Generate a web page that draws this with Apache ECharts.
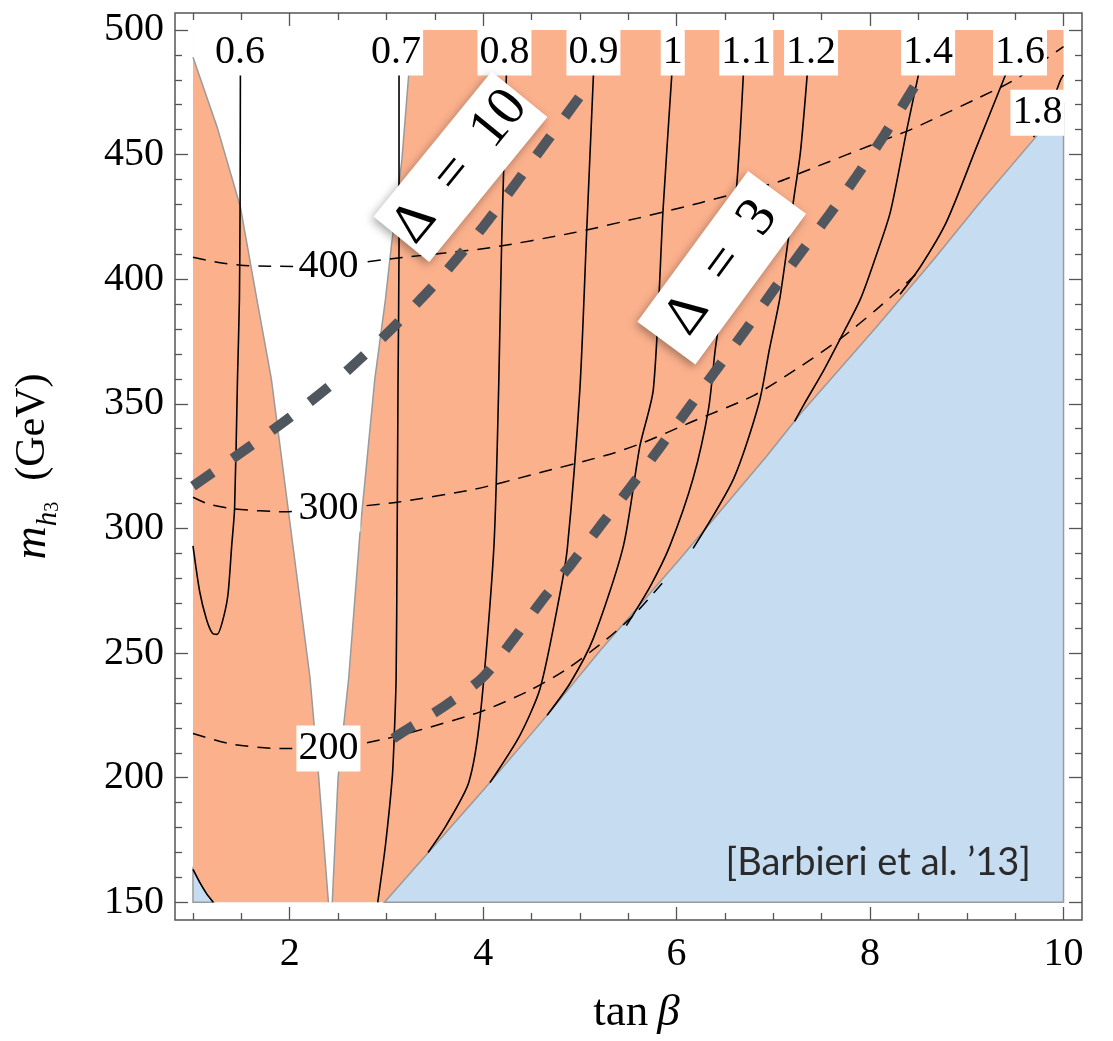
<!DOCTYPE html>
<html><head><meta charset="utf-8">
<script src="https://cdn.jsdelivr.net/npm/echarts@6/dist/echarts.min.js"></script>
<style>html,body{margin:0;padding:0;background:#fff}#c{width:1113px;height:1041px}</style>
</head><body><div id="c"></div>
<script>
// ---------- axis ticks ----------
const xLabelVals = [2, 4, 6, 8, 10];
const xMinorTicks = [1, 1.5, 2.5, 3, 3.5, 4.5, 5, 5.5, 6.5, 7, 7.5, 8.5, 9, 9.5];
const yLabelVals = [150, 200, 250, 300, 350, 400, 450, 500];
const yMinorTicks = [160,170,180,190,210,220,230,240,260,270,280,290,310,320,330,340,360,370,380,390,410,420,430,440,460,470,480,490];

// ---------- regions (tanβ, m_h3) ----------
const domain = [[1, 150], [10, 150], [10, 500], [1, 500]];
const whiteGapLeft = [[1.0,489],[1.25,461],[1.49,429],[1.66,392],[1.81,360],[1.99,306],[2.21,240],[2.30,200],[2.40,150]];
const whiteGapRight = [[2.44,150],[2.50,200],[2.61,240],[2.73,300],[2.88,360],[2.99,392],[3.05,413],[3.16,448],[3.23,482],[3.27,500]];
const blueEdge = [[2.98,150],[4.0,195],[4.66,225],[5.21,251],[6.04,288],[6.93,329],[7.28,346],[8.07,381],[8.66,408],[9.14,431],[9.69,456],[10.0,470]];
const blueCorner = [[1.0,163.2],[1.07,158],[1.14,153.5],[1.21,150]];

// ---------- solid contours ----------
const c06 = [[1.49,482],[1.487,430],[1.48,392],[1.46,360],[1.43,308],[1.40,293],[1.36,273],[1.30,262],[1.25,257.5],[1.20,258],[1.14,263.5],[1.07,274.5],[1.0,293]];
const c06b = blueCorner;
const c07 = [[3.13,482],[3.13,413],[3.12,360],[3.11,292],[3.10,240],[3.08,216],[3.06,200],[2.99,173],[2.91,150]];
const c08 = [[4.24,482],[4.19,413],[4.16,356],[4.11,292],[3.97,225],[3.85,198],[3.62,181],[3.43,170]];
const c09 = [[5.14,482],[5.07,419],[5.0,356],[4.87,292],[4.79,273],[4.59,236],[4.38,217],[4.07,198]];
const c10 = [[5.95,482],[5.86,428],[5.76,356],[5.62,333],[5.45,293],[5.14,256],[4.90,238],[4.66,225]];
const c11 = [[6.69,482],[6.62,437],[6.52,405],[6.40,372],[6.33,348],[6.17,320],[5.93,293],[5.73,277],[5.48,261]];
const c12 = [[7.35,482],[7.28,451],[7.21,432],[7.07,393],[6.96,372],[6.85,350],[6.59,320],[6.17,292]];
const c14 = [[8.50,482],[8.38,460],[8.21,427],[8.05,408],[7.90,392],[7.69,376],[7.50,362],[7.32,350],[7.22,343]];
const c16 = [[9.40,482],[9.38,480],[9.10,453],[8.79,423],[8.52,405],[8.31,394]];
const c18 = [[10.0,482],[9.97,480],[9.85,468],[9.69,457]];

// ---------- dashed m_h3 contours ----------
const m400 = [[1.0,408.8],[1.25,406.8],[1.49,405.6],[1.8,405.2],[2.40,405.1],[2.76,406.8],[3.14,408.6],[3.6,410.5],[4.07,412.6],[4.93,418.6],[5.6,424.5],[6.24,430.6],[7.07,439.3],[7.28,442.6],[8.24,457.3],[8.42,460],[9.35,477],[9.55,481.3],[10.0,493.3]];
const m300 = [[1.0,312.5],[1.16,309.8],[1.43,307.8],[1.95,306.7],[2.40,308.0],[2.78,309.1],[3.11,310.5],[3.92,315.8],[4.5,321.5],[5.31,329.8],[5.66,334.5],[6.14,342.5],[6.79,353.2],[7.28,365],[7.69,376],[8.07,388],[8.38,398.6],[8.5,403]];
const m200 = [[1.0,217.7],[1.4,213.5],[1.9,211.7],[2.40,211.7],[3.0,215.7],[3.28,218.4],[3.97,226.4],[4.48,235],[4.87,243.7],[5.28,255.7],[5.55,265],[5.86,278.4]];

// ---------- fine-tuning contours ----------
const delta10 = [[1.0,317],[1.5,330.5],[2.0,344.5],[2.5,360],[3.0,378],[3.5,398],[4.0,421],[4.5,447],[5.05,476]];
const delta3 = [[3.07,215.7],[3.175,218.4],[3.60,228.7],[3.99,240],[4.31,255.4],[4.60,270.7],[4.91,285.7],[5.21,301],[5.52,316.4],[5.82,332.1],[6.11,347.5],[6.40,363.1],[6.70,378.9],[6.99,395],[7.29,411],[7.58,426],[7.86,441.3],[8.15,458],[8.48,478.7]];

// ---------- labels ----------
const contourLabelText = ['0.6','0.7','0.8','0.9','1','1.1','1.2','1.4','1.6','1.8','400','300','200'];
const contourLabelTan  = [1.486,3.10,4.22,5.14,5.96,6.72,7.39,8.60,9.55,9.73,2.40,2.40,2.40];
const contourLabelMass = [491,491,491,491,491,491,491,491,491,466.8,405.1,308.0,211.7];
const deltaText = ['\u0394\u2002=\u200210', '\u0394\u2002=\u20023'];
const deltaTan = [3.765, 6.466];
const deltaMass = [445.1, 404.6];
const deltaAngle = [50.8, 53.7];

const SERIF = '"Liberation Serif", "Times New Roman", serif';
const ORANGE = '#FCB18D';
const BLUE = '#C6DCF1';
const EDGE = '#9a9a9a';
const FRAME = '#555';

function xAxisDef(pos, ticks, len, labels) {
  return {
    type: 'value', position: pos, min: 0.814, max: 10.191,
    axisLine: {show: false}, splitLine: {show: false},
    axisTick: {show: true, inside: true, length: len, customValues: ticks, lineStyle: {color: FRAME, width: 1.3}},
    axisLabel: labels ? {show: true, customValues: labels, margin: 14, fontSize: 40, fontFamily: SERIF, color: '#000'} : {show: false}
  };
}
function yAxisDef(pos, ticks, len, labels) {
  return {
    type: 'value', position: pos, min: 142.9, max: 506.8,
    axisLine: {show: false}, splitLine: {show: false},
    axisTick: {show: true, inside: true, length: len, customValues: ticks, lineStyle: {color: FRAME, width: 1.3}},
    axisLabel: labels ? {show: true, customValues: labels, margin: 11, fontSize: 40, fontFamily: SERIF, color: '#000'} : {show: false}
  };
}

function regionSeries(name, render, z) {
  return {type: 'custom', name, data: [[1, 150]], z, silent: true, renderItem: render, clip: true};
}
const P = (api, pts) => pts.map(p => api.coord(p));

function lineSeries(name, data, style, z) {
  return {type: 'line', name, data, showSymbol: false, symbol: 'none', smooth: 0.25, z, silent: true,
    lineStyle: style, emphasis: {disabled: true}};
}
const solid = {color: '#000', width: 1.6};
const thinDash = {color: '#000', width: 1.5, type: [13, 9]};
const thickDash = {color: '#4F565E', width: 10, type: [24, 24], cap: 'butt'};

const xAxes = [
  xAxisDef('bottom', xLabelVals, 13, xLabelVals),
  xAxisDef('bottom', xMinorTicks, 7, null),
  xAxisDef('top', xLabelVals, 13, null),
  xAxisDef('top', xMinorTicks, 7, null)
];
xAxes[0].name = '{t|tan\u2009}{b|\u03b2}';
xAxes[0].nameLocation = 'middle';
xAxes[0].nameGap = 71;
xAxes[0].nameTextStyle = {padding: [0, 0, 0, 16], rich: {
  t: {fontSize: 45, fontFamily: SERIF, color: '#000'},
  b: {fontSize: 45, fontFamily: SERIF, fontStyle: 'italic', color: '#000'}
}};
const yAxes = [
  yAxisDef('left', yLabelVals, 13, yLabelVals),
  yAxisDef('left', yMinorTicks, 7, null),
  yAxisDef('right', yLabelVals, 13, null),
  yAxisDef('right', yMinorTicks, 7, null)
];
yAxes[0].name = '{m|m}{h|h}{s|3}{g|\u2002(GeV)}';
yAxes[0].nameLocation = 'middle';
yAxes[0].nameRotate = 90;
yAxes[0].nameGap = 112;
yAxes[0].nameTextStyle = {rich: {
  m: {fontSize: 46, fontFamily: SERIF, fontStyle: 'italic', lineHeight: 60, verticalAlign: 'middle', color: '#000'},
  h: {fontSize: 29, fontFamily: SERIF, fontStyle: 'italic', lineHeight: 29, verticalAlign: 'bottom', color: '#000'},
  s: {fontSize: 20, fontFamily: SERIF, lineHeight: 14, verticalAlign: 'bottom', color: '#000'},
  g: {fontSize: 42, fontFamily: SERIF, lineHeight: 60, verticalAlign: 'middle', color: '#000'}
}};

const series = [
  regionSeries('allowed', (params, api) => ({type: 'polygon', shape: {points: P(api, domain)}, style: {fill: ORANGE}}), 1),
  regionSeries('gap', (params, api) => ({type: 'group', children: [
    {type: 'polygon', shape: {points: P(api, [[1, 500]].concat(whiteGapLeft, whiteGapRight))}, style: {fill: '#fff'}},
    {type: 'polyline', shape: {points: P(api, whiteGapLeft)}, style: {stroke: EDGE, lineWidth: 1.5, fill: null}},
    {type: 'polyline', shape: {points: P(api, whiteGapRight)}, style: {stroke: EDGE, lineWidth: 1.5, fill: null}}
  ]}), 2),
  regionSeries('excluded', (params, api) => ({type: 'group', children: [
    {type: 'polygon', shape: {points: P(api, blueEdge.concat([[10, 150]]))}, style: {fill: BLUE, stroke: EDGE, lineWidth: 1.5}},
    {type: 'polygon', shape: {points: P(api, [[1, 150]].concat(blueCorner))}, style: {fill: BLUE, stroke: EDGE, lineWidth: 1.5}}
  ]}), 2),
  lineSeries('0.6', c06, solid, 3),
  lineSeries('0.6b', c06b, solid, 3),
  lineSeries('0.7', c07, solid, 3),
  lineSeries('0.8', c08, solid, 3),
  lineSeries('0.9', c09, solid, 3),
  lineSeries('1', c10, solid, 3),
  lineSeries('1.1', c11, solid, 3),
  lineSeries('1.2', c12, solid, 3),
  lineSeries('1.4', c14, solid, 3),
  lineSeries('1.6', c16, solid, 3),
  lineSeries('1.8', c18, solid, 3),
  lineSeries('400', m400, thinDash, 3),
  lineSeries('300', m300, thinDash, 3),
  lineSeries('200', m200, thinDash, 3),
  lineSeries('Delta10', delta10, thickDash, 4),
  lineSeries('Delta3', delta3, thickDash, 4),
  {type: 'scatter', name: 'labels', z: 10, silent: true, symbolSize: 0, itemStyle: {opacity: 1},
   data: contourLabelText.map((t, i) => [contourLabelTan[i], contourLabelMass[i], t]),
   label: {show: true, opacity: 1, position: 'inside', formatter: p => p.data[2], backgroundColor: '#fff',
     padding: [3, 2, 3, 2], lineHeight: 40, fontSize: 40, fontFamily: SERIF, color: '#000'}},
  {type: 'scatter', name: 'deltas', z: 12, silent: true, symbolSize: 0, itemStyle: {opacity: 1},
   data: deltaText.map((t, i) => ({value: [deltaTan[i], deltaMass[i]], label: {rotate: deltaAngle[i], formatter: t}})),
   label: {show: true, opacity: 1, position: 'inside', align: 'center', verticalAlign: 'middle', width: 187, height: 72, lineHeight: 72,
     backgroundColor: '#fff', fontSize: 56, fontFamily: SERIF, color: '#000',
     shadowColor: 'rgba(0,0,0,0.35)', shadowBlur: 10, shadowOffsetX: -2, shadowOffsetY: 3}}
];

const chart = echarts.init(document.getElementById('c'), null, {renderer: 'canvas'});
chart.setOption({
  animation: false,
  backgroundColor: '#fff',
  grid: {left: 175, top: 13, width: 907, height: 909, show: true, borderColor: FRAME, borderWidth: 1.5, backgroundColor: 'transparent'},
  xAxis: xAxes,
  yAxis: yAxes,
  graphic: [{type: 'text', x: 1031, y: 863, z: 20, silent: true,
    style: {text: "[Barbieri et al. \u201913]", textAlign: 'right', textVerticalAlign: 'middle', font: '38px Lato', fill: '#2a2a2a'}}],
  series
});
</script></body></html>
